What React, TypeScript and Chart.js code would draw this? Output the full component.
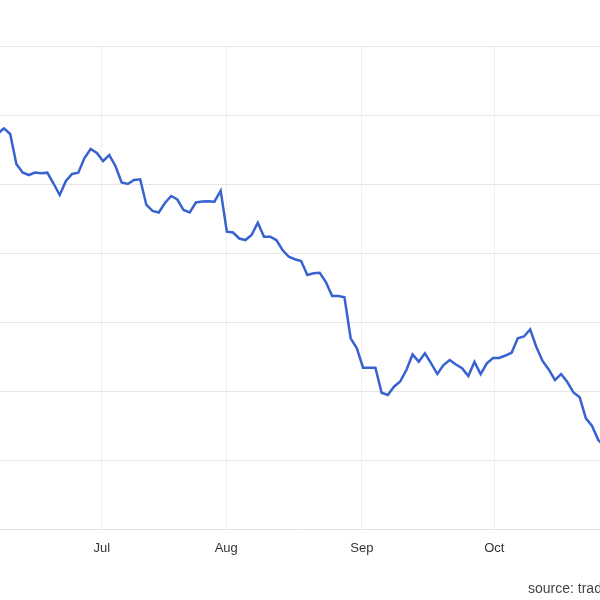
import React, { useEffect, useRef } from "react";
import { Chart, registerables } from "chart.js";

Chart.register(...registerables);

// Series values (one per trading day, index = position in the series)
const seriesValues: number[] = [
  57.3, 58.07, 57.25, 52.9, 51.67, 51.3, 51.67, 51.55, 51.64, 50.07,
  48.41, 50.43, 51.45, 51.64, 53.77, 55.07, 54.49, 53.33, 54.2, 52.61,
  50.22, 50.0, 50.58, 50.68, 46.96, 46.09, 45.87, 47.25, 48.26, 47.75,
  46.23, 45.87, 47.32, 47.46, 47.51, 47.43, 49.03, 43.09, 42.97, 42.1,
  41.88, 42.61, 44.39, 42.36, 42.36, 41.88, 40.43, 39.46, 39.09, 38.84,
  36.81, 37.06, 37.14, 35.8, 33.77, 33.77, 33.58, 27.64, 26.19, 23.38,
  23.38, 23.38, 19.75, 19.42, 20.62, 21.38, 23.04, 25.29, 24.25, 25.46,
  23.99, 22.46, 23.77, 24.49, 23.84, 23.29, 22.17, 24.2, 22.46, 24.01,
  24.78, 24.78, 25.14, 25.55, 27.64, 27.9, 28.91, 26.38, 24.35, 23.12,
  21.59, 22.46, 21.3, 19.78, 19.09, 16.04, 14.93, 12.9, 12.03,
];

// Month tick labels and where they fall on the series index axis
const monthLabels: string[] = ["Jul", "Aug", "Sep", "Oct"];
const monthTickIndex: number[] = [16.8, 36.9, 58.8, 80.2];

// Visible window of the series index axis
const viewStart = 0.354;
const viewEnd = 97.28;

// Value axis
const yMin = 0;
const yMax = 70;
const yStep = 10;

const sourceText = "source: tradingeconomics.com";

export default function App() {
  const canvasRef = useRef<HTMLCanvasElement | null>(null);

  useEffect(() => {
    document.body.style.margin = "0";
    const canvas = canvasRef.current;
    if (!canvas) return;
    const points = seriesValues.map((v, i) => ({ x: i, y: v }));
    const chart = new Chart(canvas, {
      type: "line",
      data: {
        datasets: [
          {
            data: points,
            borderColor: "#3862d0",
            borderWidth: 2.5,
            pointRadius: 0,
            tension: 0,
            fill: false,
          },
        ],
      },
      options: {
        animation: false,
        responsive: false,
        layout: { padding: { top: 46, left: 0, right: 0, bottom: 0 } },
        plugins: { legend: { display: false }, tooltip: { enabled: false } },
        scales: {
          x: {
            type: "linear",
            min: viewStart,
            max: viewEnd,
            afterBuildTicks: (scale: any) => {
              scale.ticks = monthTickIndex.map((v) => ({ value: v }));
            },
            afterFit: (scale: any) => {
              scale.height = 71;
            },
            ticks: {
              autoSkip: false,
              maxRotation: 0,
              padding: 12,
              color: "#333",
              font: { family: "'Liberation Sans', Arial, sans-serif", size: 13 },
              callback: (value: any) => {
                const idx = monthTickIndex.indexOf(Number(value));
                return idx >= 0 ? monthLabels[idx] : "";
              },
            },
            grid: { color: "#f0f0f0", drawTicks: false, lineWidth: 1 },
            border: { display: true, color: "#e4e4e4" },
          },
          y: {
            min: yMin,
            max: yMax,
            ticks: { display: false, stepSize: yStep },
            afterFit: (scale: any) => {
              scale.width = 0;
            },
            grid: { color: "#e6e6e6", drawTicks: false, lineWidth: 1 },
            border: { display: false },
          },
        },
      },
    });
    return () => chart.destroy();
  }, []);

  return (
    <div style={{ position: "relative", width: 600, height: 600, overflow: "hidden", background: "#fff" }}>
      <canvas ref={canvasRef} width={600} height={600} style={{ display: "block" }} />
      <span
        style={{
          position: "absolute",
          left: 528,
          top: 580,
          fontFamily: "'Liberation Sans', Arial, sans-serif",
          fontSize: 14,
          lineHeight: "16px",
          color: "#444",
          whiteSpace: "nowrap",
        }}
      >
        {sourceText}
      </span>
    </div>
  );
}
